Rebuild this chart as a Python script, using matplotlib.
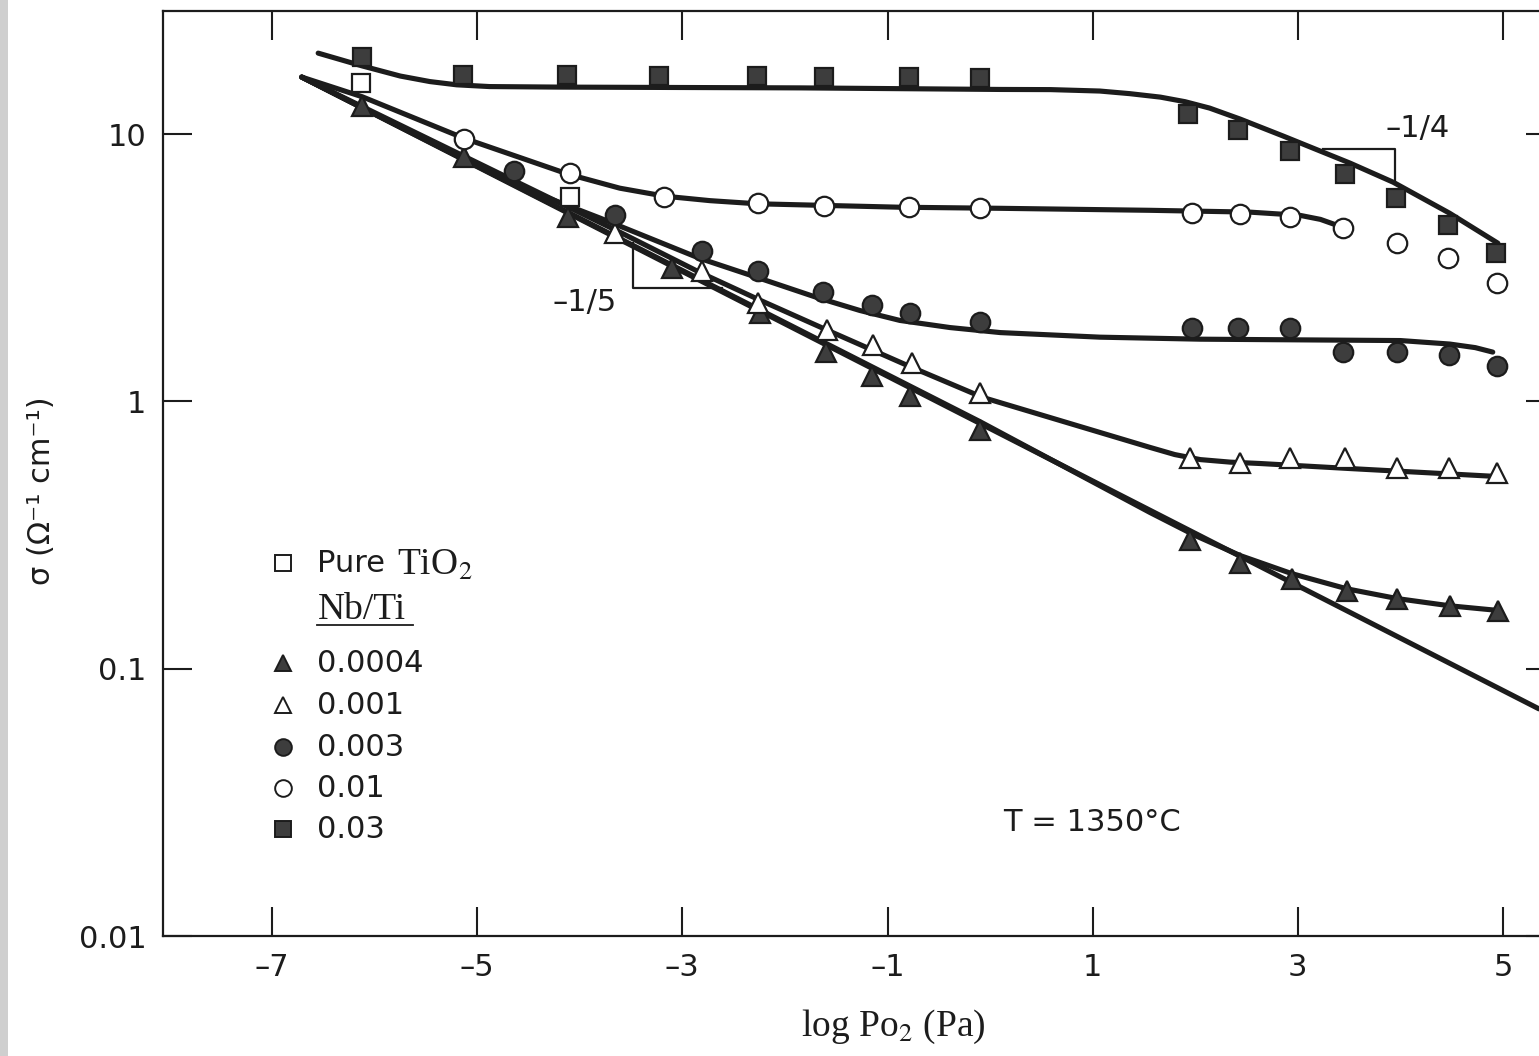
import matplotlib
matplotlib.use("Agg")
import matplotlib.pyplot as plt
from matplotlib.ticker import FixedLocator, NullLocator
from matplotlib.patches import Rectangle

plt.rcParams['mathtext.fontset'] = 'stix'

# measured points: x = log Po2 (Pa), y = sigma (ohm^-1 cm^-1)
pure_x = [-6.13, -4.10]
pure_y = [15.5, 5.81]

nb0004_x = [-6.12, -5.13, -4.11, -3.10, -2.24, -1.60, -1.15, -0.78, -0.10,
            1.95, 2.44, 2.94, 3.48, 3.97, 4.48, 4.95]
nb0004_y = [12.8, 8.20, 4.89, 3.15, 2.14, 1.53, 1.25, 1.05, 0.779,
            0.302, 0.249, 0.217, 0.196, 0.183, 0.172, 0.165]

nb001_x = [-3.66, -2.81, -2.26, -1.59, -1.14, -0.76, -0.10,
           1.95, 2.44, 2.92, 3.46, 3.97, 4.47, 4.94]
nb001_y = [4.26, 3.09, 2.33, 1.85, 1.62, 1.39, 1.08,
           0.612, 0.591, 0.617, 0.617, 0.566, 0.566, 0.542]

nb003_x = [-4.64, -3.66, -2.81, -2.26, -1.63, -1.15, -0.78, -0.10,
           1.97, 2.42, 2.92, 3.44, 3.97, 4.47, 4.94]
nb003_y = [7.27, 4.97, 3.65, 3.09, 2.56, 2.29, 2.15, 1.99,
           1.88, 1.88, 1.88, 1.53, 1.53, 1.49, 1.36]

nb01_x = [-5.13, -4.10, -3.18, -2.26, -1.62, -0.79, -0.10,
          1.97, 2.44, 2.92, 3.44, 3.97, 4.46, 4.94]
nb01_y = [9.58, 7.14, 5.81, 5.51, 5.37, 5.33, 5.28,
          5.06, 5.02, 4.89, 4.44, 3.91, 3.43, 2.77]

nb03_x = [-6.12, -5.14, -4.12, -3.23, -2.27, -1.62, -0.79, -0.10,
          1.93, 2.42, 2.92, 3.46, 3.96, 4.46, 4.93]
nb03_y = [19.4, 16.6, 16.6, 16.5, 16.5, 16.35, 16.35, 16.2,
          11.9, 10.35, 8.64, 7.08, 5.76, 4.56, 3.58]

# drawn curves
line15_x = [-6.71, 5.35]
line15_y = [16.35, 0.0708]

fit0004_x = [-6.71, -0.10, 1.56, 2.00, 2.44, 2.94, 3.48, 3.97, 4.48, 4.97]
fit0004_y = [16.35, 0.841, 0.384, 0.315, 0.265, 0.227, 0.199, 0.183, 0.172, 0.165]

fit001_x = [-6.71, -3.61, -2.83, -2.24, -1.59, -0.78, -0.07, 0.91, 1.56,
            1.80, 2.05, 2.34, 2.63, 3.51, 4.94]
fit001_y = [16.35, 4.30, 3.04, 2.39, 1.85, 1.35, 1.035, 0.799, 0.673,
            0.633, 0.606, 0.593, 0.586, 0.561, 0.524]

fit003_x = [-6.71, -4.58, -3.80, -2.83, -2.27, -1.69, -1.27, -0.88, -0.39,
            0.10, 1.07, 2.05, 4.00, 4.48, 4.73, 4.90]
fit003_y = [16.35, 6.33, 4.85, 3.43, 2.91, 2.45, 2.19, 2.01, 1.89,
            1.81, 1.74, 1.71, 1.69, 1.64, 1.59, 1.53]

fit01_x = [-6.71, -6.12, -5.13, -4.11, -3.61, -3.17, -2.73, -2.27, -0.88,
           0.10, 1.56, 2.53, 3.02, 3.22, 3.44]
fit01_y = [16.35, 13.8, 9.66, 7.08, 6.28, 5.86, 5.64, 5.49, 5.33,
           5.28, 5.19, 5.11, 4.97, 4.80, 4.48]

fit03_x = [-6.55, -6.12, -5.75, -5.46, -5.20, -4.88, -4.19, -1.85, 0.10, 0.59,
           1.07, 1.36, 1.66, 1.90, 2.14, 2.44, 2.86, 3.51, 3.93, 4.48, 4.95]
fit03_y = [20.1, 18.0, 16.5, 15.73, 15.3, 15.07, 15.0, 14.9, 14.7, 14.68,
           14.5, 14.18, 13.76, 13.23, 12.52, 11.38, 9.83, 7.79, 6.61, 5.06, 3.91]

# slope triangles
tri15_x = [-3.48, -3.48, -2.61]
tri15_y = [3.91, 2.65, 2.65]
tri14_x = [3.25, 3.95, 3.95]
tri14_y = [8.79, 8.79, 6.61]

xticks = [-7, -5, -3, -1, 1, 3, 5]
yticks = [0.01, 0.1, 1, 10]
ytick_labels = ['0.01', '0.1', '1', '10']

ink = '#1c1c1c'
fill = '#3d3d3d'

fig = plt.figure(figsize=(15.39, 10.56), dpi=100)
fig.patches.append(Rectangle((0, 0), 8 / 1539, 1, transform=fig.transFigure,
                             facecolor='#cfcfcf', edgecolor='none'))
ax = fig.add_axes([0.1059, 0.1136, 0.9045, 0.8760])
ax.set_yscale('log')
ax.set_xlim(-8.063, 5.507)
ax.set_ylim(0.01, 28.9)

lw = 3.7
for xs, ys in [(line15_x, line15_y), (fit0004_x, fit0004_y), (fit001_x, fit001_y),
               (fit003_x, fit003_y), (fit01_x, fit01_y), (fit03_x, fit03_y)]:
    ax.plot(xs, ys, color=ink, lw=lw, solid_joinstyle='round',
            solid_capstyle='round', zorder=2)

mk = dict(ls='none', markeredgecolor=ink, markeredgewidth=1.6, zorder=3)
ax.plot(nb0004_x, nb0004_y, marker='^', ms=15, markerfacecolor=fill, **mk)
ax.plot(nb001_x, nb001_y, marker='^', ms=15, markerfacecolor='white', **mk)
ax.plot(nb003_x, nb003_y, marker='o', ms=14, markerfacecolor=fill, **mk)
ax.plot(nb01_x, nb01_y, marker='o', ms=14, markerfacecolor='white', **mk)
ax.plot(nb03_x, nb03_y, marker='s', ms=13, markerfacecolor=fill, **mk)
ax.plot(pure_x, pure_y, marker='s', ms=13, markerfacecolor='white', **mk)

ax.plot(tri15_x, tri15_y, color=ink, lw=1.6, zorder=1)
ax.plot(tri14_x, tri14_y, color=ink, lw=1.6, zorder=1)
ax.text(-3.95, 2.35, '\u20131/5', fontsize=22, ha='center', va='center', color=ink)
ax.text(4.17, 10.5, '\u20131/4', fontsize=22, ha='center', va='center', color=ink)

# legend drawn by hand
lx, tx = 0.0862, 0.1110
rows = [0.4032, 0.3524, 0.2951, 0.2497, 0.2043, 0.1600, 0.1157]
lm = dict(transform=ax.transAxes, ls='none', markeredgecolor=ink,
          markeredgewidth=1.4, clip_on=False)
ax.plot([lx], [rows[0]], marker='s', ms=11, markerfacecolor='white', **lm)
ax.text(tx, rows[0], 'Pure', transform=ax.transAxes, fontsize=22,
        va='center', ha='left', color=ink)
ax.text(0.1680, rows[0] - 0.003, 'TiO$_2$', transform=ax.transAxes, fontsize=27,
        family='Liberation Serif', va='center', ha='left', color=ink)
ax.text(tx, rows[1], 'Nb/Ti', transform=ax.transAxes, fontsize=27,
        family='Liberation Serif', va='center', ha='left', color=ink)
ax.plot([tx, 0.1796], [0.3362, 0.3362], transform=ax.transAxes, color=ink, lw=1.3)
leg = [('^', fill, '0.0004'), ('^', 'white', '0.001'), ('o', fill, '0.003'),
       ('o', 'white', '0.01'), ('s', fill, '0.03')]
for (m, fc, lab), ry in zip(leg, rows[2:]):
    ax.plot([lx], [ry], marker=m, ms=12 if m != 's' else 11, markerfacecolor=fc, **lm)
    ax.text(tx, ry, lab, transform=ax.transAxes, fontsize=22,
            va='center', ha='left', color=ink)

ax.text(0.6034, 0.1222, 'T = 1350\u00b0C', transform=ax.transAxes, fontsize=22,
        va='center', ha='left', color=ink)

# axes styling
for s in ax.spines.values():
    s.set_linewidth(1.6)
    s.set_color(ink)
ax.xaxis.set_major_locator(FixedLocator(xticks))
ax.xaxis.set_minor_locator(NullLocator())
ax.yaxis.set_major_locator(FixedLocator(yticks))
ax.yaxis.set_minor_locator(NullLocator())
ax.set_yticklabels(ytick_labels)
ax.set_xticklabels(['\u2013' + str(abs(v)) if v < 0 else str(v) for v in xticks])
ax.tick_params(axis='both', which='major', direction='in', length=21, width=1.5,
               color=ink, labelsize=22, labelcolor=ink, top=True, right=True, pad=12)

ax.set_xlabel('log Po$_2$ (Pa)', fontsize=27, family='Liberation Serif', color=ink)
ax.xaxis.set_label_coords(0.5244, -0.098)
ax.xaxis.label.set_va('center')
ax.set_ylabel('\u03c3 (\u03a9\u207b\u00b9 cm\u207b\u00b9)', fontsize=22, color=ink)
ax.yaxis.set_label_coords(-0.087, 0.481)
ax.yaxis.label.set_va('center')

fig.savefig('out.png', dpi=100)
